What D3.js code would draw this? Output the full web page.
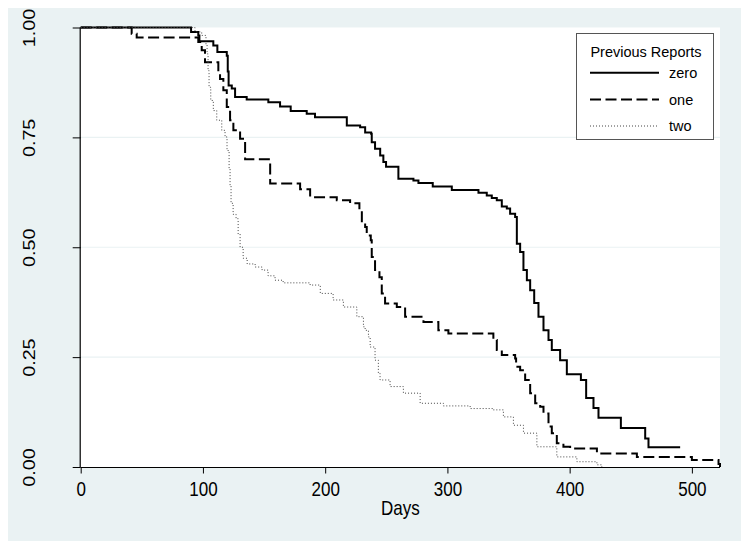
<!DOCTYPE html>
<html>
<head>
<meta charset="utf-8">
<script src="https://cdn.jsdelivr.net/npm/d3@7"></script>
<style>
  html, body { margin: 0; padding: 0; background: #ffffff; }
  svg { display: block; }
  text { font-family: "Liberation Sans", Arial, sans-serif; fill: #000; }
</style>
</head>
<body>
<svg id="chart" width="747" height="548"></svg>
<script>
// ---------- data ----------
const seriesNames = ["zero", "one", "two"];
const legendTitle = "Previous Reports";
const xLabel = "Days";
const xTicks = [0, 100, 200, 300, 400, 500];
const yTicks = [0, 0.25, 0.5, 0.75, 1];
const yTickLabels = ["0.00", "0.25", "0.50", "0.75", "1.00"];

const zeroDays = [0, 90.3, 96.2, 97.1, 108.5, 111.8, 119.5, 120.3, 121, 123.6, 126.3, 135.8, 153.5, 163.1, 171.8, 184.9, 191.7,
  217.7, 228.6, 232.7, 237.6, 238.1, 240.8, 245, 247.6, 249.8, 259.9, 272.2, 276.3, 288, 303.6, 325.4, 332.2, 336.3, 340.4,
  344.5, 348.6, 351.3, 355.4, 356.8, 359.5, 362.2, 365, 367.7, 371, 374.5, 378.6, 382.7, 385.4, 392.2, 397.7, 409.2, 413.5,
  419.5, 423.6, 441.9, 461.8, 464.5, 490.4];
const zeroSurv = [1, 0.990, 0.982, 0.969, 0.959, 0.944, 0.936, 0.90, 0.868, 0.861, 0.842, 0.836, 0.830, 0.820, 0.810, 0.804, 0.796,
  0.777, 0.773, 0.761, 0.758, 0.739, 0.724, 0.709, 0.694, 0.683, 0.656, 0.652, 0.646, 0.638, 0.630, 0.624, 0.618, 0.612, 0.607,
  0.593, 0.588, 0.576, 0.569, 0.508, 0.489, 0.448, 0.425, 0.402, 0.373, 0.342, 0.311, 0.289, 0.266, 0.243, 0.211, 0.198, 0.157,
  0.134, 0.112, 0.089, 0.065, 0.045, 0.045];

const oneDays = [0, 41.7, 45.8, 96.2, 99, 101.7, 112.6, 114, 116.7, 119.5, 122.2, 124.9, 130.4, 134.5, 155, 179.5, 187.7,
  209.5, 220.4, 228, 230, 232.7, 234, 237.3, 238.1, 240.8, 244.4, 246.3, 249, 258.6, 265.4, 280.4, 292.6, 300.8, 337.6,
  340.4, 344.5, 355.4, 356.2, 359.5, 363.6, 367.7, 371.8, 375.9, 378.6, 382.7, 385.4, 389.5, 394.9, 400.4, 422.3, 455,
  500, 521.8, 523];
const oneSurv = [1, 0.986, 0.977, 0.967, 0.948, 0.921, 0.895, 0.883, 0.857, 0.819, 0.789, 0.766, 0.747, 0.70, 0.645, 0.632, 0.614,
  0.607, 0.600, 0.584, 0.554, 0.546, 0.527, 0.516, 0.478, 0.448, 0.432, 0.395, 0.372, 0.364, 0.342, 0.330, 0.311, 0.304, 0.289,
  0.266, 0.255, 0.247, 0.228, 0.220, 0.198, 0.168, 0.145, 0.137, 0.122, 0.092, 0.077, 0.054, 0.046, 0.042, 0.031, 0.023,
  0.016, 0.007, 0];

const twoDays = [0, 93.5, 99, 102.5, 103.4, 104.2, 105, 106.4, 108.5, 111.3, 115.4, 118.1, 119.7, 121.4, 122.2, 123, 124.7,
  127.1, 128.8, 130.4, 132.9, 136.2, 142.7, 148.4, 153.3, 159, 165.6, 187.7, 196, 206.5, 214.9, 225.9, 231.3, 232.7, 235.4,
  236.8, 240.8, 243.5, 244.9, 253.1, 264, 277.7, 296.7, 318.6, 337.6, 345.8, 354, 362.2, 373.2, 389.5, 405.9, 422.3, 426.3];
const twoSurv = [1, 0.990, 0.982, 0.960, 0.940, 0.902, 0.864, 0.834, 0.811, 0.789, 0.766, 0.751, 0.720, 0.680, 0.640, 0.600, 0.575,
  0.565, 0.530, 0.500, 0.475, 0.462, 0.455, 0.448, 0.435, 0.425, 0.419, 0.414, 0.395, 0.380, 0.364, 0.342, 0.319, 0.311, 0.296,
  0.273, 0.243, 0.213, 0.198, 0.183, 0.168, 0.145, 0.139, 0.133, 0.130, 0.114, 0.095, 0.077, 0.046, 0.023, 0.012, 0.005, 0];

// ---------- layout ----------
const svg = d3.select("#chart");
const plot = { left: 80.7, right: 720, top: 27.5, bottom: 467 };
const stretch = 1.16; // axis label glyphs are taller than wide in the reference

svg.append("rect").attr("x", 8).attr("y", 8).attr("width", 733).attr("height", 533).attr("fill", "#eaf2f3");
svg.append("rect").attr("x", plot.left).attr("y", plot.top)
  .attr("width", plot.right - plot.left).attr("height", plot.bottom - plot.top).attr("fill", "#ffffff");

const x = d3.scaleLinear().domain([0, 523]).range([plot.left, plot.right]);
const y = d3.scaleLinear().domain([0, 1]).range([plot.bottom, plot.top]);

// gridlines
svg.append("g").selectAll("line").data(yTicks.filter(d => d > 0 && d < 1)).join("line")
  .attr("x1", plot.left).attr("x2", plot.right)
  .attr("y1", d => y(d)).attr("y2", d => y(d))
  .attr("stroke", "#eaf2f3").attr("stroke-width", 1.2);

// curves
const line = d3.line().x(d => x(d[0])).y(d => y(d[1])).curve(d3.curveStepAfter);
const series = [
  { name: seriesNames[0], days: zeroDays, surv: zeroSurv, width: 2, dash: null, color: "#000" },
  { name: seriesNames[1], days: oneDays, surv: oneSurv, width: 2, dash: "11,4.5", color: "#000" },
  { name: seriesNames[2], days: twoDays, surv: twoSurv, width: 1, dash: "1,2", color: "#444" }
];
series.forEach(s => {
  const pts = s.days.map((d, i) => [d, s.surv[i]]);
  svg.append("path").datum(pts).attr("d", line)
    .attr("fill", "none").attr("stroke", s.color)
    .attr("stroke-width", s.width)
    .attr("stroke-dasharray", s.dash)
    .attr("stroke-linejoin", "miter");
});

// axes
const xAxis = d3.axisBottom(x).tickValues(xTicks).tickSize(6.5).tickFormat(d3.format("d"));
const gx = svg.append("g").attr("transform", `translate(0,${plot.bottom})`).call(xAxis);
gx.select(".domain").attr("d", `M${plot.left},0.5H${plot.right}`).attr("stroke", "#000").attr("stroke-width", 1.2);
gx.selectAll(".tick line").attr("stroke", "#000").attr("stroke-width", 1);
gx.selectAll(".tick text").attr("font-size", 17).attr("font-family", "Liberation Sans, Arial, sans-serif")
  .attr("fill", "#000").attr("dy", null).attr("y", 0)
  .attr("transform", `translate(0,29) scale(1,${stretch})`);

const yAxis = d3.axisLeft(y).tickValues(yTicks).tickSize(8).tickFormat((d, i) => yTickLabels[i]);
const gy = svg.append("g").attr("transform", `translate(${plot.left},0)`).call(yAxis);
gy.select(".domain").attr("d", `M-0.5,${plot.top}V${plot.bottom}`).attr("stroke", "#000").attr("stroke-width", 1.2);
gy.selectAll(".tick line").attr("stroke", "#000").attr("stroke-width", 1);
gy.selectAll(".tick text").attr("font-size", 17).attr("font-family", "Liberation Sans, Arial, sans-serif")
  .attr("fill", "#000").attr("x", 0).attr("dy", null)
  .attr("text-anchor", "middle")
  .attr("transform", `translate(${35 - plot.left},0) rotate(-90) scale(${stretch},1)`);

svg.append("text").attr("x", (plot.left + plot.right) / 2).attr("y", 0)
  .attr("transform", `translate(0,515) scale(1,${stretch})`)
  .attr("text-anchor", "middle").attr("font-size", 17).text(xLabel);

// legend
const lg = svg.append("g");
lg.append("rect").attr("x", 576.5).attr("y", 33.5).attr("width", 137).attr("height", 106)
  .attr("fill", "#fff").attr("stroke", "#555").attr("stroke-width", 1);
lg.append("text").attr("x", 646).attr("y", 57).attr("text-anchor", "middle")
  .attr("font-size", 14.5).text(legendTitle);
const legY = [72.7, 99.5, 126];
series.forEach((s, i) => {
  lg.append("line").attr("x1", 590).attr("x2", 659).attr("y1", legY[i]).attr("y2", legY[i])
    .attr("stroke", s.color).attr("stroke-width", s.width).attr("stroke-dasharray", s.dash);
  lg.append("text").attr("x", 669).attr("y", legY[i] + 5).attr("font-size", 14.5).text(s.name);
});
</script>
</body>
</html>
